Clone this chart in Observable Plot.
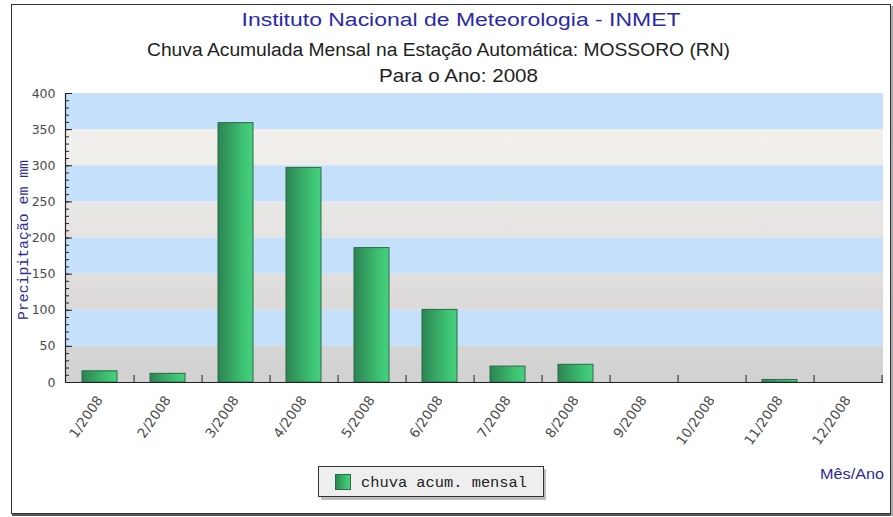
<!DOCTYPE html>
<html>
<head>
<meta charset="utf-8">
<script src="https://cdn.jsdelivr.net/npm/d3@7"></script>
<script src="https://cdn.jsdelivr.net/npm/@observablehq/plot@0.6"></script>
<style>
  html, body { margin: 0; padding: 0; background: #ffffff; }
  svg { display: block; }
</style>
</head>
<body>
<div id="chart"></div>
<script>
// ---- data ----
const months = ["1/2008", "2/2008", "3/2008", "4/2008", "5/2008", "6/2008",
                "7/2008", "8/2008", "9/2008", "10/2008", "11/2008", "12/2008"];
const rainMm = [15.5, 12, 359, 297, 186, 100.5, 22, 24.5, 0, 0, 3.5, 0];
const yTicks = [0, 50, 100, 150, 200, 250, 300, 350, 400];
const yMinorTicks = [0, 10, 20, 30, 40, 50, 60, 70, 80, 90, 100, 110, 120, 130, 140, 150,
  160, 170, 180, 190, 200, 210, 220, 230, 240, 250, 260, 270, 280, 290, 300, 310,
  320, 330, 340, 350, 360, 370, 380, 390, 400];
const bandLow = [0, 50, 100, 150, 200, 250, 300, 350];
const bandHigh = [50, 100, 150, 200, 250, 300, 350, 400];
const bandKind = ["gray", "blue", "gray", "blue", "gray", "blue", "gray", "blue"];

const titleText = "Instituto Nacional de Meteorologia - INMET";
const subtitleText = "Chuva Acumulada Mensal na Estação Automática: MOSSORO (RN)";
const yearText = "Para o Ano: 2008";
const yLabelText = "Precipitação em mm";
const xLabelText = "Mês/Ano";
const legendText = "chuva acum. mensal";

// ---- tables built from arrays ----
const data = months.map((m, i) => ({month: m, value: rainMm[i]}));
const bands = bandLow.map((lo, i) => ({lo, hi: bandHigh[i], kind: bandKind[i]}));

const W = 893, H = 517, mL = 65, mR = 10, mT = 93, mB = 135;
const step = (W - mL - mR) / months.length;

const chart = Plot.plot({
  width: W,
  height: H,
  marginLeft: mL,
  marginRight: mR,
  marginTop: mT,
  marginBottom: mB,
  style: {background: "#ffffff", fontFamily: "DejaVu Sans, sans-serif", fontSize: "12px", color: "#333"},
  x: {type: "band", domain: months, paddingInner: 0.485, paddingOuter: 0.2425, label: null},
  y: {domain: [0, 400], label: null},
  marks: [
    Plot.rect(bands.filter(d => d.kind === "gray"), {y1: "lo", y2: "hi", fill: "url(#inmetGray)"}),
    Plot.rect(bands.filter(d => d.kind === "blue"), {y1: "lo", y2: "hi", fill: "#c4e0fb"}),
    Plot.barY(data, {x: "month", y: "value", fill: "url(#inmetBar)", stroke: "#2b6a45", strokeWidth: 1}),
    Plot.axisY(yTicks, {tickSize: 0, tickPadding: 10, fontSize: 12.5, fill: "#4a4a4a", label: null}),
    Plot.axisY(yMinorTicks, {tickSize: 4, dx: 4, text: null, label: null, stroke: "#222"}),
    Plot.axisY(yTicks, {tickSize: 7, dx: 7, text: null, label: null, stroke: "#222"}),
    Plot.axisX({tickSize: 0, tickPadding: 15, tickRotate: -55, fontSize: 13.5, fill: "#4a4a4a", label: null}),
    Plot.axisX({tickSize: 7, dy: -7, dx: step / 2, text: null, label: null, stroke: "#222"}),
    Plot.ruleY([0], {stroke: "#222", strokeWidth: 1.2}),
    Plot.frame({anchor: "left", stroke: "#222", strokeWidth: 1.2})
  ]
});

document.getElementById("chart").appendChild(chart);

// ---- decorations: gradients, titles, legend, border ----
const svg = d3.select(chart);
const yS = chart.scale("y");
const defs = svg.insert("defs", ":first-child");

const gg = defs.append("linearGradient")
  .attr("id", "inmetGray")
  .attr("gradientUnits", "userSpaceOnUse")
  .attr("x1", 0).attr("x2", 0)
  .attr("y1", yS.apply(400)).attr("y2", yS.apply(0));
gg.append("stop").attr("offset", 0).attr("stop-color", "#f8f5f1");
gg.append("stop").attr("offset", 1).attr("stop-color", "#d1d1d1");

const bg = defs.append("linearGradient")
  .attr("id", "inmetBar")
  .attr("x1", 0).attr("x2", 1).attr("y1", 0).attr("y2", 0);
bg.append("stop").attr("offset", 0).attr("stop-color", "#2c8452");
bg.append("stop").attr("offset", 0.75).attr("stop-color", "#3ec574");
bg.append("stop").attr("offset", 1).attr("stop-color", "#45d07f");

// outer border with shadow
svg.append("rect").attr("x", 11.5).attr("y", 4.5).attr("width", 879).attr("height", 509)
  .attr("fill", "none").attr("stroke", "#333").attr("stroke-width", 1);
svg.append("line").attr("x1", 12).attr("x2", 893).attr("y1", 515).attr("y2", 515)
  .attr("stroke", "#555").attr("stroke-width", 2);
svg.append("line").attr("x1", 892).attr("x2", 892).attr("y1", 6).attr("y2", 516)
  .attr("stroke", "#aaa").attr("stroke-width", 2);

// titles
const sans = "Liberation Sans, Arial, sans-serif";
svg.append("text").text(titleText)
  .attr("x", 461).attr("y", 26).attr("text-anchor", "middle")
  .attr("font-family", sans).attr("font-size", 18).attr("fill", "#2a2aa8")
  .attr("textLength", 439).attr("lengthAdjust", "spacingAndGlyphs");
svg.append("text").text(subtitleText)
  .attr("x", 438.5).attr("y", 56).attr("text-anchor", "middle")
  .attr("font-family", sans).attr("font-size", 18).attr("fill", "#1e1e1e")
  .attr("textLength", 583).attr("lengthAdjust", "spacingAndGlyphs");
svg.append("text").text(yearText)
  .attr("x", 458.5).attr("y", 82).attr("text-anchor", "middle")
  .attr("font-family", sans).attr("font-size", 19).attr("fill", "#1e1e1e")
  .attr("textLength", 159).attr("lengthAdjust", "spacingAndGlyphs");

// y axis label
svg.append("text").text(yLabelText)
  .attr("transform", "translate(24,240) rotate(-90)")
  .attr("text-anchor", "middle").attr("dominant-baseline", "middle")
  .attr("font-family", "Liberation Mono, DejaVu Sans Mono, monospace").attr("font-size", 14)
  .attr("fill", "#2d2d95")
  .attr("textLength", 160).attr("lengthAdjust", "spacingAndGlyphs");

// x axis label
svg.append("text").text(xLabelText)
  .attr("x", 884).attr("y", 479).attr("text-anchor", "end")
  .attr("font-family", sans).attr("font-size", 15).attr("fill", "#2a2a9a")
  .attr("textLength", 64).attr("lengthAdjust", "spacingAndGlyphs");

// legend
const lg = svg.append("g");
lg.append("rect").attr("x", 321).attr("y", 469).attr("width", 225).attr("height", 31).attr("fill", "#bdbdbd");
lg.append("rect").attr("x", 318.5).attr("y", 466.5).attr("width", 225).attr("height", 30)
  .attr("fill", "#eeeeee").attr("stroke", "#333").attr("stroke-width", 1);
lg.append("rect").attr("x", 335.5).attr("y", 474.5).attr("width", 15).attr("height", 15)
  .attr("fill", "url(#inmetBar)").attr("stroke", "#2b6a45");
lg.append("text").text(legendText)
  .attr("x", 361).attr("y", 487).attr("text-anchor", "start")
  .attr("font-family", "Liberation Mono, DejaVu Sans Mono, monospace").attr("font-size", 15)
  .attr("fill", "#222")
  .attr("textLength", 166).attr("lengthAdjust", "spacingAndGlyphs");
</script>
</body>
</html>
